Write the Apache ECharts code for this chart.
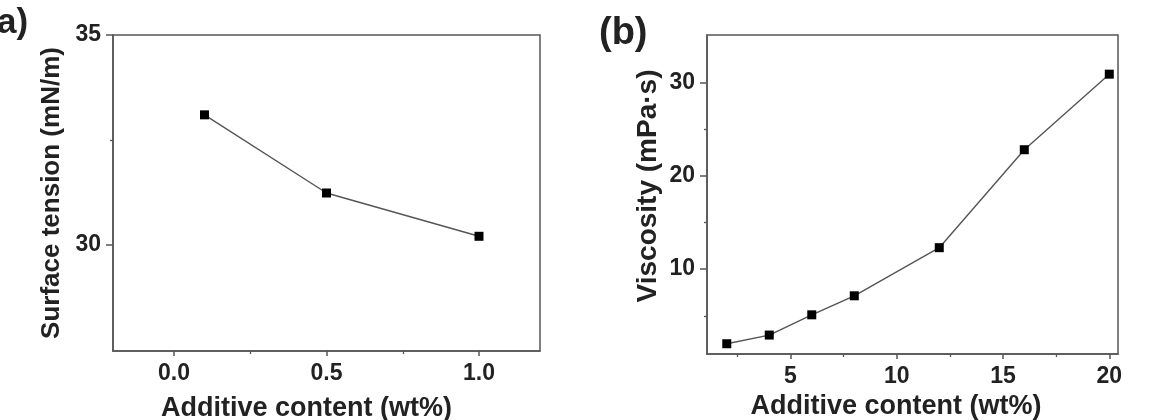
<!DOCTYPE html>
<html>
<head>
<meta charset="utf-8">
<script src="https://cdn.jsdelivr.net/npm/echarts@6/dist/echarts.min.js"></script>
<style>html,body{margin:0;padding:0;background:#fff;}#c{width:1170px;height:420px;}</style>
</head>
<body>
<div id="c"></div>
<script>
// Panel (a): surface tension
const aX = [0.1, 0.5, 1.0];
const aY = [33.1, 31.24, 30.21];
const aXTicks = [0, 0.5, 1.0];
const aXMinor = [0.25, 0.75];
const aYTicks = [30, 35];
const aYMinor = [32.5];
// Panel (b): viscosity
const bX = [2, 4, 6, 8, 12, 16, 20];
const bY = [2.0, 2.93, 5.1, 7.14, 12.3, 22.8, 30.9];
const bXTicks = [5, 10, 15, 20];
const bXMinor = [2.5, 7.5, 12.5, 17.5];
const bYTicks = [10, 20, 30];
const bYMinor = [5, 15, 25];

const FONT = '"Liberation Sans", Arial, sans-serif';
const AX = '#555';
const TXT = '#222';
const TICKFS = 23;

function majorAxis(extra) {
  return Object.assign({
    type: 'value',
    axisLine: { show: true, onZero: false, lineStyle: { color: AX, width: 1.5 } },
    splitLine: { show: false },
    nameTextStyle: { fontFamily: FONT, fontWeight: 'bold', fontSize: 26, color: TXT }
  }, extra);
}
function minorAxis(extra) {
  return Object.assign({
    type: 'value',
    axisLine: { show: false, onZero: false },
    splitLine: { show: false },
    axisLabel: { show: false }
  }, extra);
}

const option = {
  animation: false,
  backgroundColor: '#fff',
  grid: [
    { left: 113, right: 630, top: 35, bottom: 69, containLabel: false, outerBoundsMode: 'none',
      show: true, borderColor: AX, borderWidth: 1.5, backgroundColor: 'transparent' },
    { left: 707, right: 52, top: 35, bottom: 66, containLabel: false, outerBoundsMode: 'none',
      show: true, borderColor: AX, borderWidth: 1.5, backgroundColor: 'transparent' }
  ],
  graphic: [
    { type: 'text', left: -3, top: 6, style: { text: 'a)', font: 'bold 35px ' + FONT, fill: TXT } },
    { type: 'text', left: 599, top: 15, style: { text: '(b)', font: 'bold 38px ' + FONT, fill: TXT } }
  ],
  xAxis: [
    majorAxis({
      gridIndex: 0, min: -0.2, max: 1.2, position: 'bottom',
      axisTick: { show: true, length: 5, customValues: aXTicks, lineStyle: { color: AX, width: 1.5 } },
      axisLabel: { customValues: aXTicks, margin: 11, fontFamily: FONT, fontWeight: 'bold', fontSize: TICKFS, color: TXT,
        formatter: v => v.toFixed(1) },
      name: 'Additive content (wt%)', nameLocation: 'middle', nameGap: 44,
      nameTextStyle: { fontFamily: FONT, fontWeight: 'bold', fontSize: 27, color: TXT, padding: [0, 40, 0, 0] }
    }),
    minorAxis({ gridIndex: 0, min: -0.2, max: 1.2, position: 'bottom', offset: 0,
      axisTick: { show: true, length: 3, customValues: aXMinor, lineStyle: { color: AX, width: 1.3 } } }),
    majorAxis({
      gridIndex: 1, min: 1.07, max: 20.41, position: 'bottom',
      axisTick: { show: true, length: 5, customValues: bXTicks, lineStyle: { color: AX, width: 1.5 } },
      axisLabel: { customValues: bXTicks, margin: 11, fontFamily: FONT, fontWeight: 'bold', fontSize: TICKFS, color: TXT },
      name: 'Additive content (wt%)', nameLocation: 'middle', nameGap: 24,
      nameTextStyle: { fontFamily: FONT, fontWeight: 'bold', fontSize: 27, color: TXT, padding: [0, 33, 0, 0] }
    }),
    minorAxis({ gridIndex: 1, min: 1.07, max: 20.41, position: 'bottom', offset: 0,
      axisTick: { show: true, length: 3, customValues: bXMinor, lineStyle: { color: AX, width: 1.3 } } })
  ],
  yAxis: [
    majorAxis({
      gridIndex: 0, min: 27.48, max: 35, position: 'left',
      axisTick: { show: true, length: 7, customValues: aYTicks, lineStyle: { color: AX, width: 1.5 } },
      axisLabel: { customValues: aYTicks, margin: 12, fontFamily: FONT, fontWeight: 'bold', fontSize: TICKFS, color: TXT },
      name: 'Surface tension (mN/m)', nameLocation: 'middle', nameGap: 48,
      nameTextStyle: { fontFamily: FONT, fontWeight: 'bold', fontSize: 26, color: TXT }
    }),
    minorAxis({ gridIndex: 0, min: 27.48, max: 35, position: 'left', offset: 0,
      axisTick: { show: true, length: 3, customValues: aYMinor, lineStyle: { color: AX, width: 1.3 } } }),
    majorAxis({
      gridIndex: 1, min: 0.9, max: 35.1, position: 'left',
      axisTick: { show: true, length: 7, customValues: bYTicks, lineStyle: { color: AX, width: 1.5 } },
      axisLabel: { customValues: bYTicks, margin: 12, fontFamily: FONT, fontWeight: 'bold', fontSize: TICKFS, color: TXT },
      name: 'Viscosity (mPa·s)', nameLocation: 'middle', nameGap: 45,
      nameTextStyle: { fontFamily: FONT, fontWeight: 'bold', fontSize: 28, color: TXT, padding: [0, 0, 0, 17] }
    }),
    minorAxis({ gridIndex: 1, min: 0.9, max: 35.1, position: 'left', offset: 0,
      axisTick: { show: true, length: 3, customValues: bYMinor, lineStyle: { color: AX, width: 1.3 } } })
  ],
  series: [
    {
      type: 'line', xAxisIndex: 0, yAxisIndex: 0,
      data: aX.map((x, i) => [x, aY[i]]),
      symbol: 'rect', symbolSize: 9,
      itemStyle: { color: '#000' },
      lineStyle: { color: '#555', width: 1.4 }
    },
    {
      type: 'line', xAxisIndex: 2, yAxisIndex: 2,
      data: bX.map((x, i) => [x, bY[i]]),
      symbol: 'rect', symbolSize: 9,
      itemStyle: { color: '#000' },
      lineStyle: { color: '#555', width: 1.4 }
    }
  ]
};
const chart = echarts.init(document.getElementById('c'), null, { renderer: 'canvas' });
chart.setOption(option);
</script>
</body>
</html>
